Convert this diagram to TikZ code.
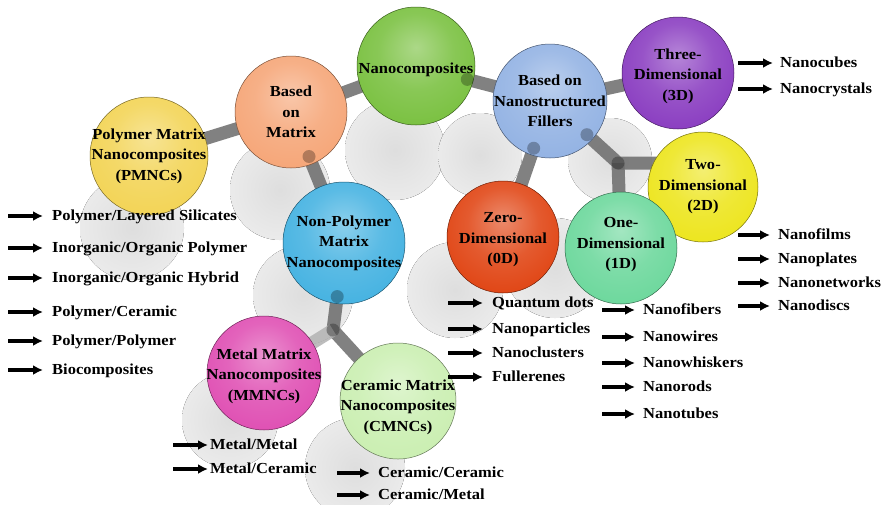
\documentclass[tikz,border=0pt]{standalone}
\usepackage{fontspec}
\setmainfont{Liberation Serif}[FakeStretch=1.08]
\usetikzlibrary{arrows.meta,calc}
\pgfdeclarelayer{shad}
\pgfdeclarelayer{bars}
\pgfsetlayers{shad,bars,main}
\colorlet{bc}{gray}
\pgfdeclareradialshading[bc]{myball}{\pgfpoint{0bp}{8bp}}{%
  color(0bp)=(bc!60!white); color(16bp)=(bc!85!white); color(36bp)=(bc);
  color(50bp)=(bc!90!black); color(57bp)=(bc!70!black); color(62bp)=(bc!55!black)}
\definecolor{cPM}{HTML}{F2D24E}
\definecolor{cBM}{HTML}{F5A272}
\definecolor{cNC}{HTML}{74BE38}
\definecolor{cBN}{HTML}{8EAFE2}
\definecolor{cTH}{HTML}{8535BE}
\definecolor{cTW}{HTML}{ECE414}
\definecolor{cZE}{HTML}{DF3D0A}
\definecolor{cON}{HTML}{66D698}
\definecolor{cNP}{HTML}{3DAFE0}
\definecolor{cMM}{HTML}{DE48B0}
\definecolor{cCM}{HTML}{C8EEAE}
\tikzset{
  ball/.style={circle, inner sep=0pt, /utils/exec={\colorlet{bc}{#1}}, shading=myball, draw=#1!50!black, line width=0.5pt},
  lbl/.style={inner sep=0pt, align=center, font=\bfseries\fontsize{15.3}{20.5}\selectfont},
  item/.style={inner sep=0pt, anchor=west, text height=11pt, text depth=3pt, font=\bfseries\fontsize{15.3}{20.5}\selectfont},
  arr/.style={line width=3.2pt, -{Latex[length=10pt,width=10pt]}},
  bar/.style={line width=13pt, draw=black!58, opacity=0.85},
  socket/.style={fill=black, opacity=0.28},
  shadowdisc/.style={inner color=black!13, outer color=black!8, draw=none}
}
\newcommand\litem[6]{%
  \coordinate (#1s) at (#2,#4);
  \node[item] (#1) at (#3,#4) {#5};
  \draw[arr, shorten >=#6pt] (#1s) -- (#1.west);}
\begin{document}
\begin{tikzpicture}[x=1pt,y=-1pt]
\path[use as bounding box] (0,0) rectangle (884,504);
% balls
\node[ball=cPM, minimum size=118pt] (pm) at (149,156) {};
\node[ball=cBM, minimum size=112pt] (bm) at (291,112) {};
\node[ball=cNC, minimum size=118pt] (nc) at (416,66) {};
\node[ball=cBN, minimum size=114pt] (bn) at (550,101) {};
\node[ball=cTH, minimum size=112pt] (th) at (678,73) {};
\node[ball=cTW, minimum size=110pt] (tw) at (703,187) {};
\node[ball=cZE, minimum size=112pt] (ze) at (503,237) {};
\node[ball=cON, minimum size=112pt] (on) at (621,248) {};
\node[ball=cNP, minimum size=122pt] (np) at (344,243) {};
\node[ball=cMM, minimum size=114pt] (mm) at (264,373) {};
\node[ball=cCM, minimum size=116pt] (cm) at (398,401) {};
% junctions
\coordinate (j1) at (618,163);
\coordinate (j2) at (333,330);
% sockets where the rods enter the balls
\fill[socket] ($(bm.center)!48pt!(np.center)$) circle (6.5);
\fill[socket] ($(bn.center)!50pt!(ze.center)$) circle (6.5);
\fill[socket] ($(bn.center)!50pt!(j1)$) circle (6.5);
\fill[socket] ($(nc.center)!53pt!(bn.center)$) circle (6.5);
\fill[socket] ($(np.center)!54pt!(j2)$) circle (6.5);
% labels
\node[lbl] (pmt) at (pm) {Polymer Matrix\\Nanocomposites\\(PMNCs)};
\node[lbl] (bmt) at (bm) {Based\\on\\Matrix};
\node[lbl, yshift=-4pt] (nct) at (nc) {Nanocomposites};
\node[lbl] (bnt) at (bn) {Based on\\Nanostructured\\Fillers};
\node[lbl, yshift=-3pt] (tht) at (th) {Three-\\Dimensional\\(3D)};
\node[lbl] (twt) at (tw) {Two-\\Dimensional\\(2D)};
\node[lbl, yshift=-3pt] (zet) at (ze) {Zero-\\Dimensional\\(0D)};
\node[lbl, yshift=3pt] (ont) at (on) {One-\\Dimensional\\(1D)};
\node[lbl] (npt) at (np) {Non-Polymer\\Matrix\\Nanocomposites};
\node[lbl, yshift=-3pt] (mmt) at (mm) {Metal Matrix\\Nanocomposites\\(MMNCs)};
\node[lbl, yshift=-6pt] (cmt) at (cm) {Ceramic Matrix\\Nanocomposites\\(CMNCs)};
\begin{pgfonlayer}{bars}
\draw[bar] (pm.center) -- (bm.center);
\draw[bar] (bm.center) -- (nc.center);
\draw[bar] (bm.center) -- (np.center);
\draw[bar] (nc.center) -- (bn.center);
\draw[bar] (bn.center) -- (th.center);
\draw[bar] (bn.center) -- (ze.center);
\draw[bar, line join=round] (bn.center) -- (j1) -- (j1 -| tw.center);
\draw[bar, line join=round] (j1) -- (on.center);
\draw[bar, line join=round] (np.center) -- (j2) -- (cm.center);
\draw[bar, draw=black!30] (j2) -- (mm.center);
\fill[socket] (j1) circle (6.5);
\fill[socket] (j2) circle (6.5);
\end{pgfonlayer}
\begin{pgfonlayer}{shad}
\fill[white] (0,0) rectangle (884,504);
\fill[shadowdisc] (132,228) circle (52);
\fill[shadowdisc] (280,190) circle (50);
\fill[shadowdisc] (395,150) circle (50);
\fill[shadowdisc] (480,155) circle (42);
\fill[shadowdisc] (610,160) circle (42);
\fill[shadowdisc] (455,290) circle (48);
\fill[shadowdisc] (555,268) circle (50);
\fill[shadowdisc] (303,295) circle (50);
\fill[shadowdisc] (230,420) circle (48);
\fill[shadowdisc] (355,468) circle (50);
\end{pgfonlayer}
% lists
\litem{p1}{8}{52}{216}{Polymer/Layered Silicates}{9}
\litem{p2}{8}{52}{248}{Inorganic/Organic Polymer}{9}
\litem{p3}{8}{52}{278}{Inorganic/Organic Hybrid}{9}
\litem{p4}{8}{52}{312}{Polymer/Ceramic}{9}
\litem{p5}{8}{52}{341}{Polymer/Polymer}{9}
\litem{p6}{8}{52}{370}{Biocomposites}{9}
\litem{m1}{173}{210}{445}{Metal/Metal}{2}
\litem{m2}{173}{210}{469}{Metal/Ceramic}{2}
\litem{c1}{337}{378}{473}{Ceramic/Ceramic}{8}
\litem{c2}{337}{378}{495}{Ceramic/Metal}{8}
\litem{z1}{448}{492}{303}{Quantum dots}{9}
\litem{z2}{448}{492}{329}{Nanoparticles}{9}
\litem{z3}{448}{492}{353}{Nanoclusters}{9}
\litem{z4}{448}{492}{377}{Fullerenes}{9}
\litem{o1}{602}{643}{310}{Nanofibers}{8}
\litem{o2}{602}{643}{337}{Nanowires}{8}
\litem{o3}{602}{643}{363}{Nanowhiskers}{8}
\litem{o4}{602}{643}{387}{Nanorods}{8}
\litem{o5}{602}{643}{414}{Nanotubes}{8}
\litem{w1}{738}{778}{235}{Nanofilms}{8}
\litem{w2}{738}{778}{259}{Nanoplates}{8}
\litem{w3}{738}{778}{283}{Nanonetworks}{8}
\litem{w4}{738}{778}{306}{Nanodiscs}{8}
\litem{h1}{738}{780}{63}{Nanocubes}{7}
\litem{h2}{738}{780}{89}{Nanocrystals}{7}
\end{tikzpicture}
\end{document}
